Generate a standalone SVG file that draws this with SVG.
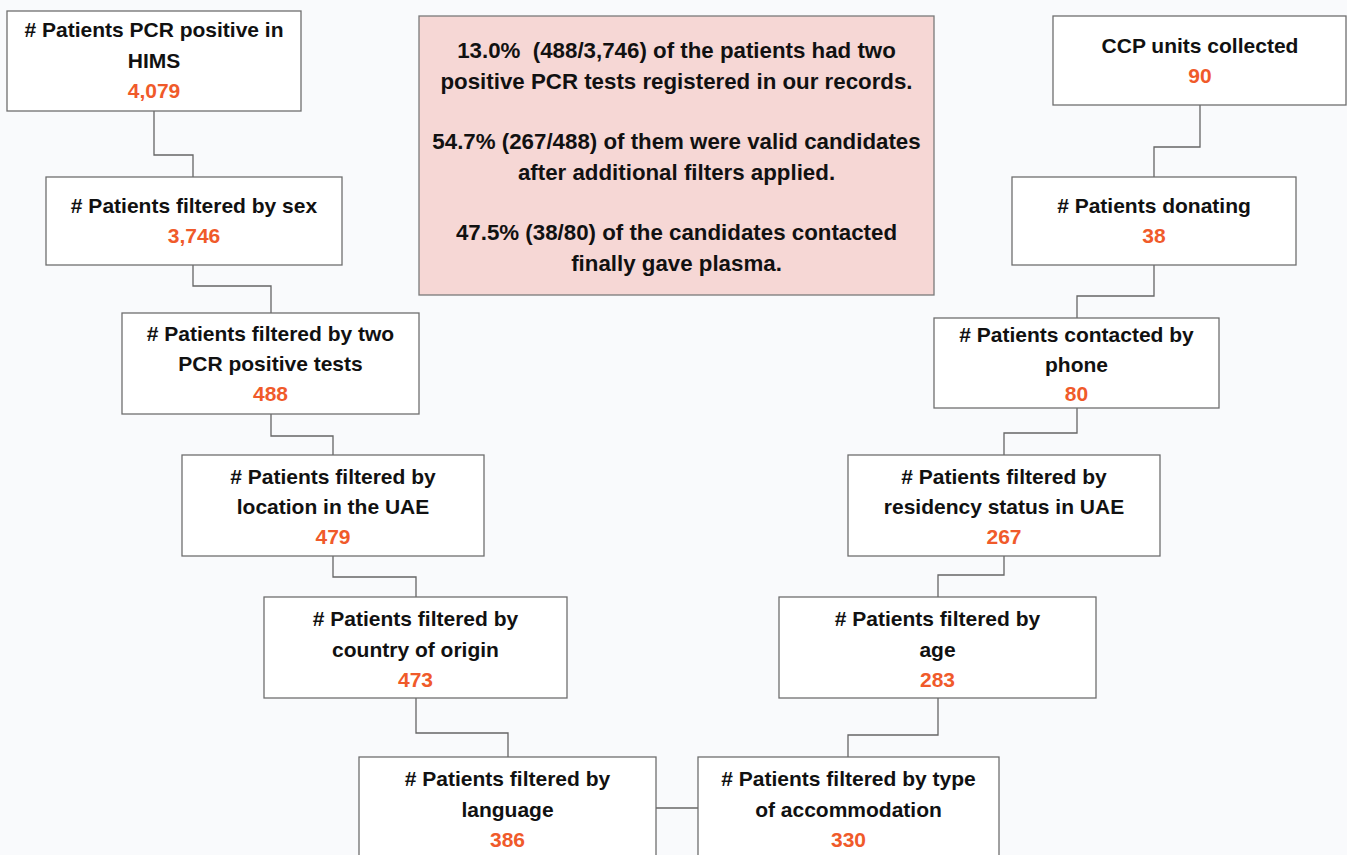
<svg xmlns="http://www.w3.org/2000/svg" width="1347" height="855" viewBox="0 0 1347 855">
<style>
.bg{fill:#f9fafc}
.box{fill:#ffffff;stroke:#6f6f6f;stroke-width:1.3}
.note{fill:#f6d7d5;stroke:#7a7a7a;stroke-width:1.3}
.conn{fill:none;stroke:#666666;stroke-width:1.3}
text{font-family:"Liberation Sans",Arial,sans-serif;font-weight:bold;text-anchor:middle}
.t{font-size:21px;fill:#111111}
.n{font-size:21px;fill:#f05a2a}
.p{font-size:22.3px;fill:#111111;white-space:pre}
</style>
<rect class="bg" x="0" y="0" width="1347" height="855"/>
<g id="connectors">
<polyline class="conn" points="154,111 154,155 193,155 193,177"/>
<polyline class="conn" points="193,265 193,286 271,286 271,313"/>
<polyline class="conn" points="271,414 271,436 333,436 333,455"/>
<polyline class="conn" points="333,556 333,577 416,577 416,597"/>
<polyline class="conn" points="416,698 416,733 508,733 508,757"/>
<polyline class="conn" points="656,808 698,808"/>
<polyline class="conn" points="1200,105 1200,147 1154,147 1154,177"/>
<polyline class="conn" points="1154,265 1154,296 1077,296 1077,318"/>
<polyline class="conn" points="1077,408 1077,433 1004,433 1004,455"/>
<polyline class="conn" points="1004,556 1004,575 938,575 938,597"/>
<polyline class="conn" points="938,698 938,735 848,735 848,757"/>
</g>
<g id="note">
<rect class="note" x="419" y="16" width="515" height="279"/>
<text class="p" x="676.5" y="58" xml:space="preserve">13.0%  (488/3,746) of the patients had two</text>
<text class="p" x="676.5" y="89">positive PCR tests registered in our records.</text>
<text class="p" x="676.5" y="149">54.7% (267/488) of them were valid candidates</text>
<text class="p" x="676.5" y="180">after additional filters applied.</text>
<text class="p" x="676.5" y="240">47.5% (38/80) of the candidates contacted</text>
<text class="p" x="676.5" y="271">finally gave plasma.</text>
</g>
<g id="pcr-positive">
<rect class="box" x="7" y="11" width="294" height="100"/>
<text class="t" x="154" y="37"># Patients PCR positive in</text>
<text class="t" x="154" y="68">HIMS</text>
<text class="n" x="154" y="98">4,079</text>
</g>
<g id="sex">
<rect class="box" x="46" y="177" width="296" height="88"/>
<text class="t" x="194" y="213"># Patients filtered by sex</text>
<text class="n" x="194" y="243">3,746</text>
</g>
<g id="two-pcr">
<rect class="box" x="122" y="313" width="297" height="101"/>
<text class="t" x="270.5" y="341"># Patients filtered by two</text>
<text class="t" x="270.5" y="371">PCR positive tests</text>
<text class="n" x="270.5" y="401">488</text>
</g>
<g id="location">
<rect class="box" x="182" y="455" width="302" height="101"/>
<text class="t" x="333" y="484"># Patients filtered by</text>
<text class="t" x="333" y="514">location in the UAE</text>
<text class="n" x="333" y="544">479</text>
</g>
<g id="country">
<rect class="box" x="264" y="597" width="303" height="101"/>
<text class="t" x="415.5" y="626"># Patients filtered by</text>
<text class="t" x="415.5" y="657">country of origin</text>
<text class="n" x="415.5" y="687">473</text>
</g>
<g id="language">
<rect class="box" x="359" y="757" width="297" height="120"/>
<text class="t" x="507.5" y="786"># Patients filtered by</text>
<text class="t" x="507.5" y="817">language</text>
<text class="n" x="507.5" y="847">386</text>
</g>
<g id="accommodation">
<rect class="box" x="698" y="757" width="301" height="120"/>
<text class="t" x="848.5" y="786"># Patients filtered by type</text>
<text class="t" x="848.5" y="817">of accommodation</text>
<text class="n" x="848.5" y="847">330</text>
</g>
<g id="age">
<rect class="box" x="779" y="597" width="317" height="101"/>
<text class="t" x="937.5" y="626"># Patients filtered by</text>
<text class="t" x="937.5" y="657">age</text>
<text class="n" x="937.5" y="687">283</text>
</g>
<g id="residency">
<rect class="box" x="848" y="455" width="312" height="101"/>
<text class="t" x="1004" y="484"># Patients filtered by</text>
<text class="t" x="1004" y="514">residency status in UAE</text>
<text class="n" x="1004" y="544">267</text>
</g>
<g id="phone">
<rect class="box" x="934" y="318" width="285" height="90"/>
<text class="t" x="1076.5" y="342"># Patients contacted by</text>
<text class="t" x="1076.5" y="372">phone</text>
<text class="n" x="1076.5" y="401">80</text>
</g>
<g id="donating">
<rect class="box" x="1012" y="177" width="284" height="88"/>
<text class="t" x="1154" y="213"># Patients donating</text>
<text class="n" x="1154" y="243">38</text>
</g>
<g id="ccp">
<rect class="box" x="1053" y="16" width="293" height="89"/>
<text class="t" x="1200" y="53">CCP units collected</text>
<text class="n" x="1200" y="83">90</text>
</g>
</svg>
